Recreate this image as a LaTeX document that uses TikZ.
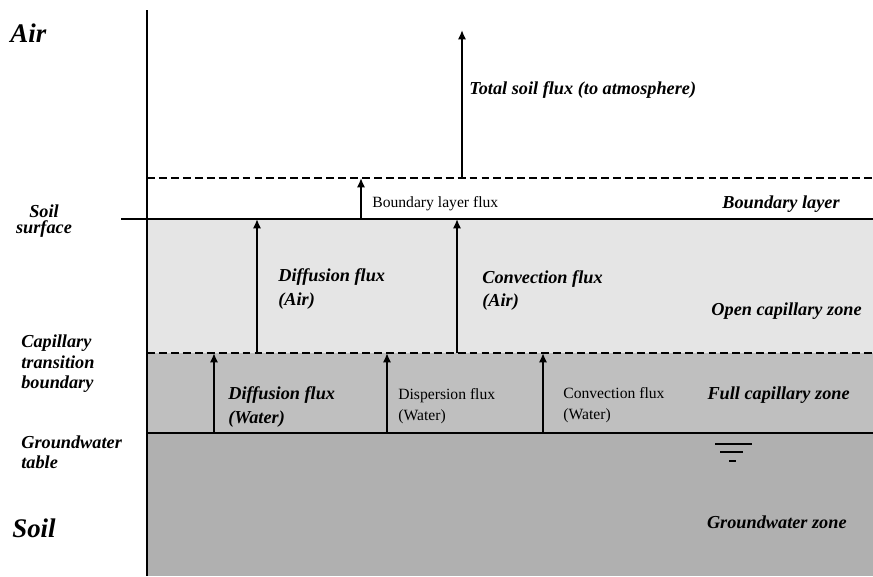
\documentclass[tikz,border=0pt]{standalone}
\usepackage{fontspec}
\setmainfont{Liberation Serif}
\usetikzlibrary{arrows.meta}
\begin{document}
\begin{tikzpicture}[x=0.02cm,y=-0.02cm]
\tikzset{lab/.style={inner sep=0pt,anchor=west,align=left,font=\fontsize{10.4}{13.2}\selectfont\bfseries\itshape},
 side/.style={lab,font=\fontsize{10.4}{11.6}\selectfont\bfseries\itshape},
 txt/.style={inner sep=0pt,anchor=west,align=left,font=\fontsize{8.9}{11.8}\selectfont},
 big/.style={inner sep=0pt,anchor=west,font=\fontsize{15.3}{18}\selectfont\bfseries\itshape},
 zone/.style={lab,anchor=east},
 flux/.style={-{Latex[length=5.4pt,width=4.8pt]},line width=1.1pt},
 brk/.style={line width=1pt,dash pattern=on 4.5pt off 2.3pt}}

  \useasboundingbox (0,0) rectangle (873,576);

  % layers
  \fill[gray!20] (147,219) rectangle (873,353);
  \fill[gray!50] (147,353) rectangle (873,433);
  \fill[gray!62] (147,433) rectangle (873,576);

  \draw[line width=.6pt] (147,10) -- (147,576);
  \draw[brk] (147,178) -- (873,178);
  \draw[line width=1.1pt] (121,219) -- (873,219);
  \draw[brk] (147,353) -- (873,353);
  \draw[line width=.6pt] (147,433) -- (873,433);

  % water table mark
  \draw[line width=.8pt] (715,444) -- (752,444);
  \draw[line width=.8pt] (720,452) -- (743,452);
  \draw[line width=.8pt] (729,461) -- (736,461);

  \coordinate (t0) at (462,178);  \coordinate (t1) at (462,30);
  \coordinate (b0) at (361,219);  \coordinate (b1) at (361,178);
  \coordinate (da0) at (257,353); \coordinate (da1) at (257,219);
  \coordinate (ca0) at (457,353); \coordinate (ca1) at (457,219);
  \coordinate (dw0) at (214,433); \coordinate (dw1) at (214,353);
  \coordinate (pw0) at (387,433); \coordinate (pw1) at (387,353);
  \coordinate (cw0) at (543,433); \coordinate (cw1) at (543,353);

  \draw[flux] (t0) -- (t1);
  \draw[flux] (b0) -- (b1);
  \draw[flux] (da0) -- (da1);
  \draw[flux] (ca0) -- (ca1);
  \draw[flux] (dw0) -- (dw1);
  \draw[flux] (pw0) -- (pw1);
  \draw[flux] (cw0) -- (cw1);

  % labels
  \draw (10,33.5) node[big](air) {Air};
  \draw (12,528) node[big](soil) {Soil};
  \draw (44,221) node[side,anchor=center,align=center,font=\fontsize{10.4}{9.4}\selectfont\bfseries\itshape](surf) {Soil\\surface};
  \draw (21,364) node[side](ctb) {Capillary\\transition\\boundary};
  \draw (21,452) node[side,font=\fontsize{10.4}{11.3}\selectfont\bfseries\itshape](gwt) {Groundwater\\table};

  \draw (469,90) node[lab](tot) {Total soil flux (to atmosphere)};
  \draw (372,204) node[txt](blf) {Boundary layer flux};
  \draw (278,289) node[lab](dfa) {Diffusion flux\\(Air)};
  \draw (482,290.5) node[lab](cfa) {Convection flux\\(Air)};
  \draw (228,407) node[lab](dfw) {Diffusion flux\\(Water)};
  \draw (398,406) node[txt](dpw) {Dispersion flux\\(Water)};
  \draw (563,405) node[txt](cfw) {Convection flux\\(Water)};

  \draw (840,204) node[zone](bl) {Boundary layer};
  \draw (862,311) node[zone](ocz) {Open capillary zone};
  \draw (850,395) node[zone](fcz) {Full capillary zone};
  \draw (847,522) node[zone](gwz) {Groundwater zone};
\end{tikzpicture}
\end{document}
